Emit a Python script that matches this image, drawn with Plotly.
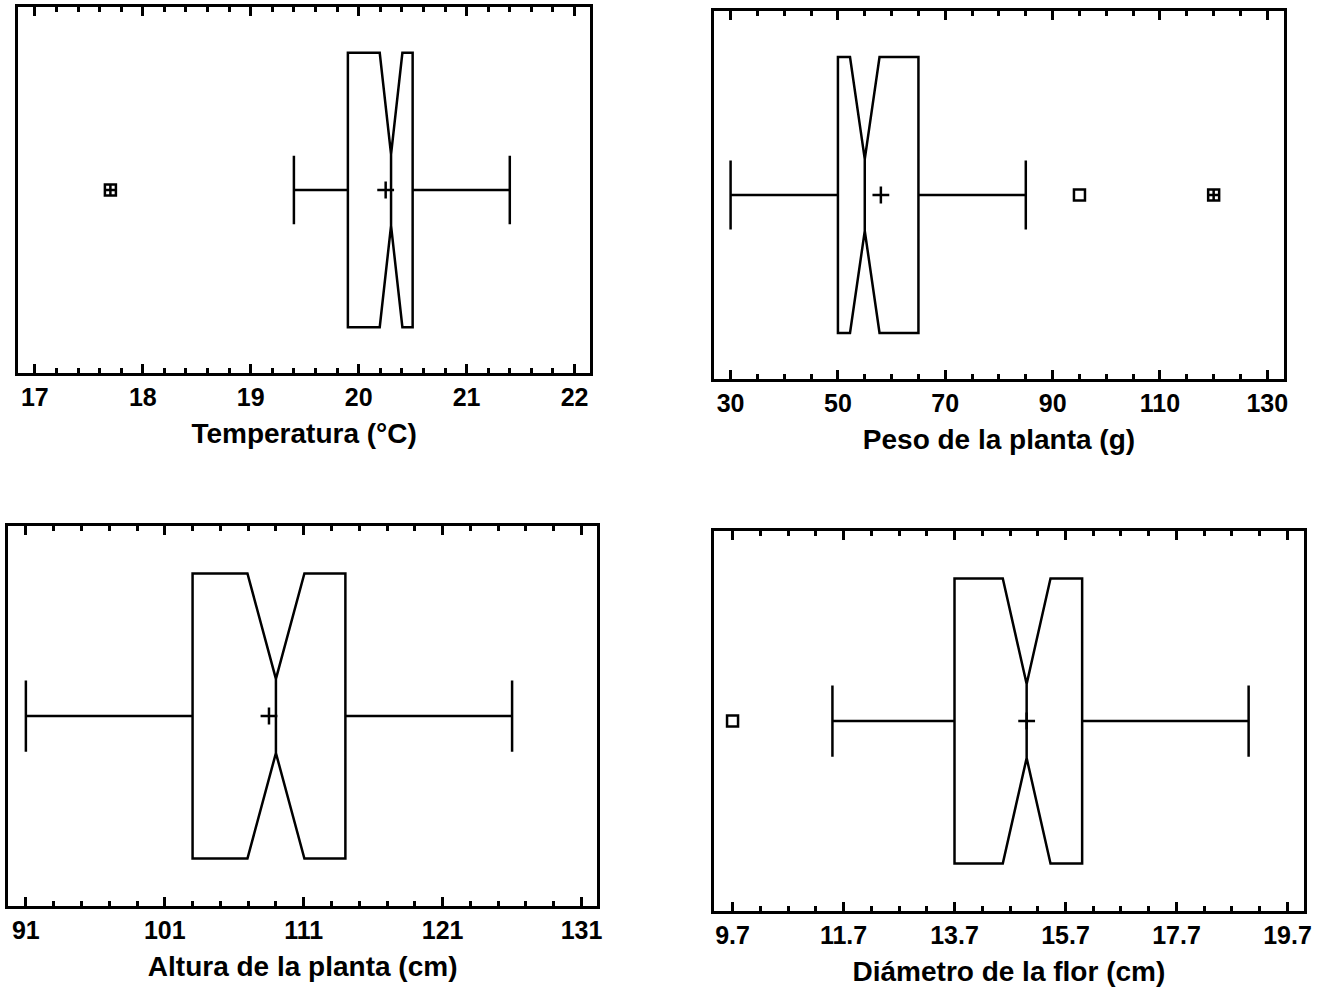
import plotly.graph_objects as go

# ---- data ----
titles = ["Temperatura (°C)", "Peso de la planta (g)", "Altura de la planta (cm)", "Diámetro de la flor (cm)"]
q1_vals = [19.9, 50.0, 103.0, 13.7]
median_vals = [20.3, 55.0, 109.0, 15.0]
q3_vals = [20.5, 65.0, 114.0, 16.0]
lower_whisker = [19.4, 30.0, 91.0, 11.5]
upper_whisker = [21.4, 85.0, 126.0, 19.0]
mean_vals = [20.25, 58.0, 108.5, 15.0]
notch_half = [0.105, 2.75, 2.05, 0.43]
outliers = [[], [95.0], [], [9.7]]
far_outliers = [[17.7], [120.0], [], []]
tick_start = [17, 30, 91, 9.7]
tick_step = [1, 20, 10, 2]
minor_step = [0.2, 5, 2, 0.5]
tick_fmt = ["d", "d", "d", ".1f"]

# ---- layout (pixel geometry of the four panels) ----
W, H = 1330, 990
panels_px = [  # x0, x1, ytop, ybottom
    (18, 594, 7, 373),
    (718, 1292, 11, 379),
    (8, 601, 526, 906),
    (718, 1312, 531, 911),
]
x_ranges = [(16.843, 22.147), (26.85, 133.15), (89.71, 132.14), (9.36, 20.0)]

fig = go.Figure()
font_fam = "Liberation Sans, Arial, sans-serif"

for i in range(4):
    ax = "" if i == 0 else str(i + 1)
    xref = "x" + ax
    yref = "y" + ax
    fig.add_trace(go.Box(
        orientation="h",
        y=[0],
        q1=[q1_vals[i]], median=[median_vals[i]], q3=[q3_vals[i]],
        lowerfence=[lower_whisker[i]], upperfence=[upper_whisker[i]],
        notchspan=[notch_half[i]],
        notched=True, notchwidth=0.37, whiskerwidth=0.25, width=0.75,
        boxpoints=False,
        line=dict(color="black", width=2.5),
        fillcolor="rgba(0,0,0,0)",
        xaxis=xref, yaxis=yref, showlegend=False,
    ))
    fig.add_trace(go.Scatter(
        x=[mean_vals[i]], y=[0], mode="markers",
        marker=dict(symbol="cross-thin-open", size=12, color="black",
                    line=dict(color="black", width=2.5)),
        xaxis=xref, yaxis=yref, showlegend=False,
    ))
    if outliers[i]:
        fig.add_trace(go.Scatter(
            x=outliers[i], y=[0] * len(outliers[i]), mode="markers",
            marker=dict(symbol="square-open", size=11, color="black",
                        line=dict(color="black", width=2.5)),
            xaxis=xref, yaxis=yref, showlegend=False,
        ))
    if far_outliers[i]:
        fig.add_trace(go.Scatter(
            x=far_outliers[i], y=[0] * len(far_outliers[i]), mode="markers",
            marker=dict(symbol="square-cross-open", size=11, color="black",
                        line=dict(color="black", width=2.5)),
            xaxis=xref, yaxis=yref, showlegend=False,
        ))

    x0, x1, yt, yb = panels_px[i]
    xdom = [x0 / W, x1 / W]
    ydom = [(H - yb) / H, (H - yt) / H]
    fig.layout["xaxis" + ax] = dict(
        domain=xdom, anchor=yref, range=list(x_ranges[i]),
        tick0=tick_start[i], dtick=tick_step[i], tickformat=tick_fmt[i],
        ticks="inside", ticklen=9, tickwidth=2.5, tickcolor="black",
        minor=dict(ticks="inside", ticklen=5, tickwidth=2.5, tickcolor="black",
                   dtick=minor_step[i], tick0=tick_start[i]),
        showline=True, linewidth=2.5, linecolor="black", mirror="ticks",
        showgrid=False, zeroline=False,
        tickfont=dict(family=font_fam, size=25, color="black", weight="bold"),
        title=dict(text=titles[i], standoff=14,
                   font=dict(family=font_fam, size=28, color="black", weight="bold")),
    )
    fig.layout["yaxis" + ax] = dict(
        domain=ydom, anchor=xref, range=[-0.5, 0.5],
        showline=True, linewidth=2.5, linecolor="black", mirror=True,
        showticklabels=False, ticks="", showgrid=False, zeroline=False,
    )

fig.update_layout(
    width=W, height=H,
    margin=dict(l=0, r=0, t=0, b=0),
    paper_bgcolor="white", plot_bgcolor="white",
    showlegend=False,
)

fig.write_html(
    "out.html", config={"displayModeBar": False},
    post_script="document.body.style.margin='0px';document.body.style.overflow='hidden';",
)
